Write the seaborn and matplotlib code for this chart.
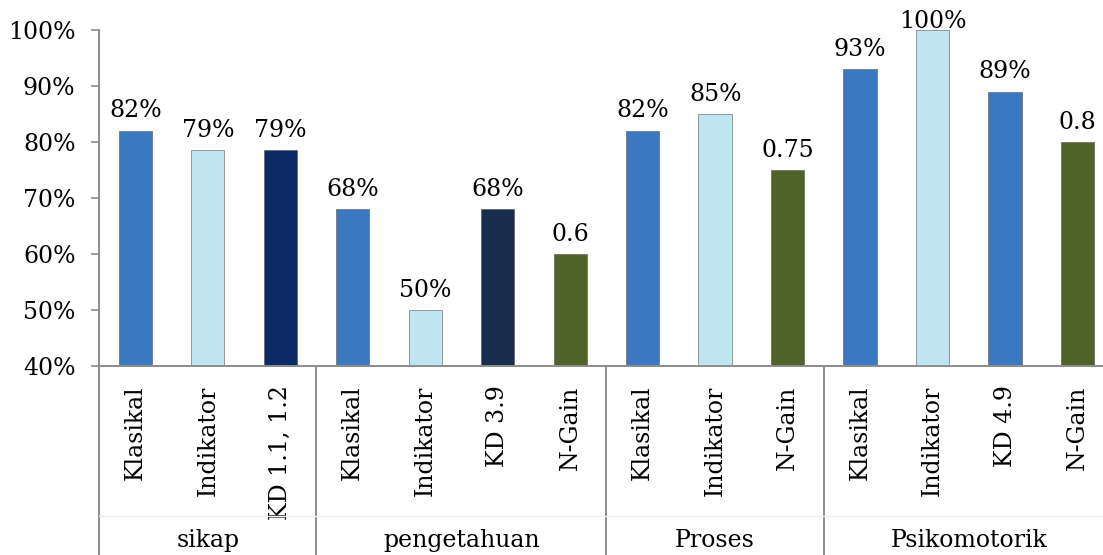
import pandas as pd
import matplotlib.pyplot as plt
import seaborn as sns

#########################################################
# DATA
#########################################################

groups = ["sikap", "pengetahuan", "Proses", "Psikomotorik"]
group_sizes = [3, 4, 3, 4]

categories = ["Klasikal", "Indikator", "KD 1.1, 1.2",
              "Klasikal", "Indikator", "KD 3.9", "N-Gain",
              "Klasikal", "Indikator", "N-Gain",
              "Klasikal", "Indikator", "KD 4.9", "N-Gain"]

values = [0.82, 0.786, 0.786,
          0.68, 0.50, 0.68, 0.60,
          0.82, 0.85, 0.75,
          0.93, 1.00, 0.89, 0.80]

value_labels = ["82%", "79%", "79%",
                "68%", "50%", "68%", "0.6",
                "82%", "85%", "0.75",
                "93%", "100%", "89%", "0.8"]

bar_colors = ["#3b78c2", "#bfe6f0", "#0c2a66",
              "#3b78c2", "#bfe6f0", "#182d4d", "#4f6228",
              "#3b78c2", "#bfe6f0", "#4f6228",
              "#3b78c2", "#bfe6f0", "#3b78c2", "#4f6228"]

df = pd.DataFrame({"pos": [str(i) for i in range(len(values))],
                   "value": values})

#########################################################
# PLOT
#########################################################

sns.set_style("white")
plt.rcParams["font.family"] = ["DejaVu Serif"]
plt.rcParams["text.color"] = "black"
plt.rcParams["xtick.color"] = "black"
plt.rcParams["ytick.color"] = "black"

fig = plt.figure(figsize=(11.03, 5.55), dpi=100)
ax = fig.add_axes([0.0898, 0.3405, 0.920, 0.6054])

sns.barplot(data=df, x="pos", y="value", hue="pos", palette=bar_colors,
            legend=False, width=0.46, ax=ax, saturation=1,
            edgecolor="#555555", linewidth=0.4)

ax.set_ylim(0.4, 1.0)
ax.set_xlim(-0.5, len(values) - 0.5)
ax.set_yticks([0.4, 0.5, 0.6, 0.7, 0.8, 0.9, 1.0])
ax.set_yticklabels(["40%", "50%", "60%", "70%", "80%", "90%", "100%"],
                   fontsize=17)
ax.set_xticks(range(len(categories)))
ax.set_xticklabels(categories, rotation=90, fontsize=17, va="top")
ax.tick_params(axis="x", length=0, pad=14)
ax.tick_params(axis="y", length=6, width=1.2, color="#888888", direction="out",
               left=True, pad=11)
ax.set_xlabel("")
ax.set_ylabel("")

for s in ["top", "right"]:
    ax.spines[s].set_visible(False)
for s in ["left", "bottom"]:
    ax.spines[s].set_color("#8c8c8c")
    ax.spines[s].set_linewidth(1.4)

# value labels above bars
for i, (v, lab) in enumerate(zip(values, value_labels)):
    off = 6 if v < 0.99 else -2
    ax.annotate(lab, (i, v), xytext=(0, off), textcoords="offset points",
                ha="center", va="bottom", fontsize=17, annotation_clip=False)

# group separators and group labels below the axis
trans = ax.get_xaxis_transform()
start = -0.5
bounds = [start]
for g, n in zip(groups, group_sizes):
    end = start + n
    ax.text((start + end) / 2, -0.52, g, transform=trans, ha="center",
            va="center", fontsize=17)
    start = end
    bounds.append(end)

for b in bounds[:-1]:
    ax.plot([b, b], [0, -0.57], transform=trans, color="#8c8c8c",
            lw=1.4, clip_on=False)

ax.plot([-0.5, len(values) - 0.5], [-0.445, -0.445], transform=trans,
        color="#eeeeee", lw=1, clip_on=False)

plt.savefig("out.png", dpi=100)
